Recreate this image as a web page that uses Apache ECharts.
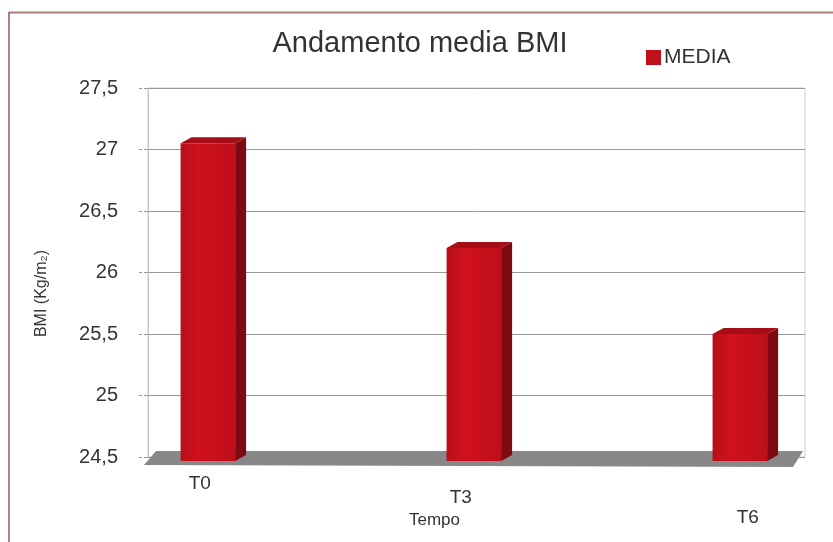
<!DOCTYPE html>
<html>
<head>
<meta charset="utf-8">
<script src="https://cdn.jsdelivr.net/npm/echarts@6/dist/echarts.min.js"></script>
<style>html,body{margin:0;padding:0;background:#fff}#c{width:833px;height:542px}</style>
</head>
<body>
<div id="c"></div>
<script>
// ---- data ----
const categories = ['T0', 'T3', 'T6'];
const mediaValues = [27.05, 26.2, 25.5];
const yTicks = ['24,5', '25', '25,5', '26', '26,5', '27', '27,5'];
const titleText = 'Andamento media BMI';
const seriesName = 'MEDIA';
const yName = 'BMI (Kg/m\u2082)';
const xName = 'Tempo';

const Y_MIN = 24.5, Y_MAX = 27.5, Y_STEP = 0.5;
const chart = echarts.init(document.getElementById('c'), null, {renderer: 'canvas'});

const barData = mediaValues.map((v, i) => [i, v]);
const labelStyles = ['t0', 't3', 't6'];

function renderBar(params, api) {
  const i = api.value(0), v = api.value(1);
  const top = api.coord([i, v]);
  const base = api.coord([i, Y_MIN]);
  const w = api.size([0.205, 0])[0];
  const x0 = top[0] - w / 2, x1 = top[0] + w / 2;
  const dx = 11, dy = 6;
  const yT = top[1], yB = base[1] + 4;
  return {
    type: 'group',
    children: [
      {type: 'polygon', shape: {points: [[x1, yT], [x1 + dx, yT - dy], [x1 + dx, yB - dy], [x1, yB]]},
        style: {fill: '#7c0a10'}},
      {type: 'polygon', shape: {points: [[x0, yT], [x0 + dx, yT - dy], [x1 + dx, yT - dy], [x1, yT]]},
        style: {fill: '#a60d17'}},
      {type: 'rect', shape: {x: x0, y: yT, width: w, height: yB - yT},
        style: {fill: new echarts.graphic.LinearGradient(0, 0, 1, 0, [
          {offset: 0, color: '#b80f1a'}, {offset: 0.35, color: '#d0111d'}, {offset: 1, color: '#bd0f1a'}])}}
    ]
  };
}

function renderFloor(params, api) {
  const cs = params.coordSys;
  const xl = cs.x, xr = cs.x + cs.width, yb = cs.y + cs.height;
  return {
    type: 'polygon',
    shape: {points: [[xl - 4, yb + 8], [xr - 12, yb + 10], [xr - 2, yb - 6], [xl + 8, yb - 6]]},
    style: {fill: '#888888'}
  };
}

chart.setOption({
  animation: false,
  backgroundColor: '#fff',
  textStyle: {fontFamily: '"Liberation Sans", Arial, sans-serif', color: '#333'},
  title: {
    text: titleText, left: 415, top: 24, textAlign: 'center',
    textStyle: {fontSize: 29, fontWeight: 'normal', color: '#333', fontFamily: '"Liberation Sans", Arial, sans-serif'}
  },
  legend: {
    data: [seriesName], left: 641, top: 42, icon: 'rect', itemWidth: 15, itemHeight: 15, itemGap: 5,
    textStyle: {fontSize: 21, color: '#333', padding: [0, 0, 0, -2]}
  },
  grid: {left: 148, right: 28, top: 88, bottom: 85, show: true, borderColor: '#cfcfcf', borderWidth: 1,
    containLabel: false, outerBoundsMode: 'none'},
  xAxis: {
    type: 'value', min: -0.225, max: 2.245,
    name: xName, nameLocation: 'middle', nameGap: 55, nameMoveOverlap: false,
    nameTextStyle: {fontSize: 17, color: '#333', padding: [0, 84, 0, 0]},
    axisLine: {show: false}, axisTick: {show: false}, splitLine: {show: false},
    axisLabel: {
      customValues: [0, 1, 2], margin: 17, fontSize: 19, color: '#333',
      formatter: v => '{' + labelStyles[v] + '|' + categories[v] + '}',
      rich: {
        t0: {fontSize: 19, color: '#333', padding: [0, 16, 0, 0]},
        t3: {fontSize: 19, color: '#333', padding: [14, 26, 0, 0]},
        t6: {fontSize: 19, color: '#333', padding: [34, 0, 0, 16]}
      }
    }
  },
  yAxis: {
    type: 'value', min: Y_MIN, max: Y_MAX, interval: Y_STEP,
    name: yName, nameLocation: 'middle', nameGap: 98, nameMoveOverlap: false,
    nameTextStyle: {fontSize: 16, color: '#333', padding: [0, 42, 0, 0]},
    axisLine: {show: true, onZero: false, lineStyle: {color: '#c4c4c4'}},
    axisTick: {show: true, length: 9, lineStyle: {color: '#999', type: 'dashed'}},
    axisLabel: {
      margin: 30, fontSize: 20, color: '#333',
      formatter: v => yTicks[Math.round((v - Y_MIN) / Y_STEP)]
    },
    splitLine: {show: true, lineStyle: {color: '#9a9a9a', width: 1}}
  },
  graphic: [
    {type: 'line', shape: {x1: 9, y1: 12.5, x2: 833, y2: 12.5}, style: {stroke: '#b07c7c', lineWidth: 2}},
    {type: 'line', shape: {x1: 9, y1: 12, x2: 9, y2: 542}, style: {stroke: '#8a5a5a', lineWidth: 1.5}}
  ],
  series: [
    {type: 'custom', name: 'floor', silent: true, renderItem: renderFloor, data: [[0, Y_MIN]], z: 1},
    {type: 'custom', name: seriesName, renderItem: renderBar, data: barData,
      itemStyle: {color: '#c0101c'}, encode: {x: 0, y: 1}, z: 2}
  ]
});
</script>
</body>
</html>
